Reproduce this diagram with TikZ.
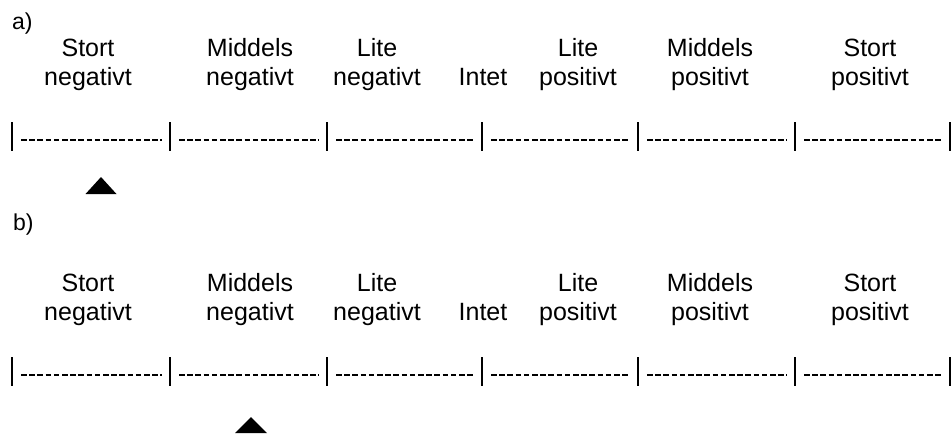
\documentclass[tikz,border=0pt]{standalone}
\usepackage{fontspec}
\setmainfont{Liberation Sans}
\begin{document}
\begin{tikzpicture}[x=1pt,y=-1pt,
  lbl/.style={anchor=base, align=center, font=\fontsize{25}{29}\selectfont, inner sep=0pt},
  tag/.style={anchor=base west, font=\fontsize{23}{27}\selectfont, inner sep=0pt},
  bar/.style={line width=2.2pt},
  dashline/.style={line width=2pt, dash pattern=on 5.5pt off 2.7pt},
  marker/.style={fill=black, draw=none}]
\useasboundingbox (0,0) rectangle (952,440);

\node[tag] (ta) at (12,29) {a)};
\node[tag] (tb) at (13,230) {b)};

\foreach \p/\dy in {a/0,b/235}{
  \begin{scope}[yshift=-\dy pt]
    \node[lbl] (\p-sn) at (88,85) {Stort\\negativt};
    \node[lbl] (\p-mn) at (250,85) {Middels\\negativt};
    \node[lbl] (\p-ln) at (377,85) {Lite\\negativt};
    \node[lbl] (\p-in) at (483,85) {Intet};
    \node[lbl] (\p-lp) at (578,85) {Lite\\positivt};
    \node[lbl] (\p-mp) at (710,85) {Middels\\positivt};
    \node[lbl] (\p-sp) at (870,85) {Stort\\positivt};
    \foreach \x [count=\i] in {12,170,327,482,638,795,950}{
      \coordinate (\p-t\i) at (\x,122);
      \coordinate (\p-u\i) at (\x,151);
      \coordinate (\p-d\i) at (\x,140);
      \draw[bar] (\p-t\i) -- (\p-u\i);
    }
    \foreach \i [evaluate=\i as \j using {int(\i+1)}] in {1,...,6}{
      \draw[dashline] ([xshift=9pt]\p-d\i) -- ([xshift=-8pt]\p-d\j);
    }
  \end{scope}
}

\fill[marker] (101,177) -- (116.5,194) -- (85.5,194) -- cycle;
\fill[marker] (251,417) -- (267,433) -- (235,433) -- cycle;
\end{tikzpicture}
\end{document}
